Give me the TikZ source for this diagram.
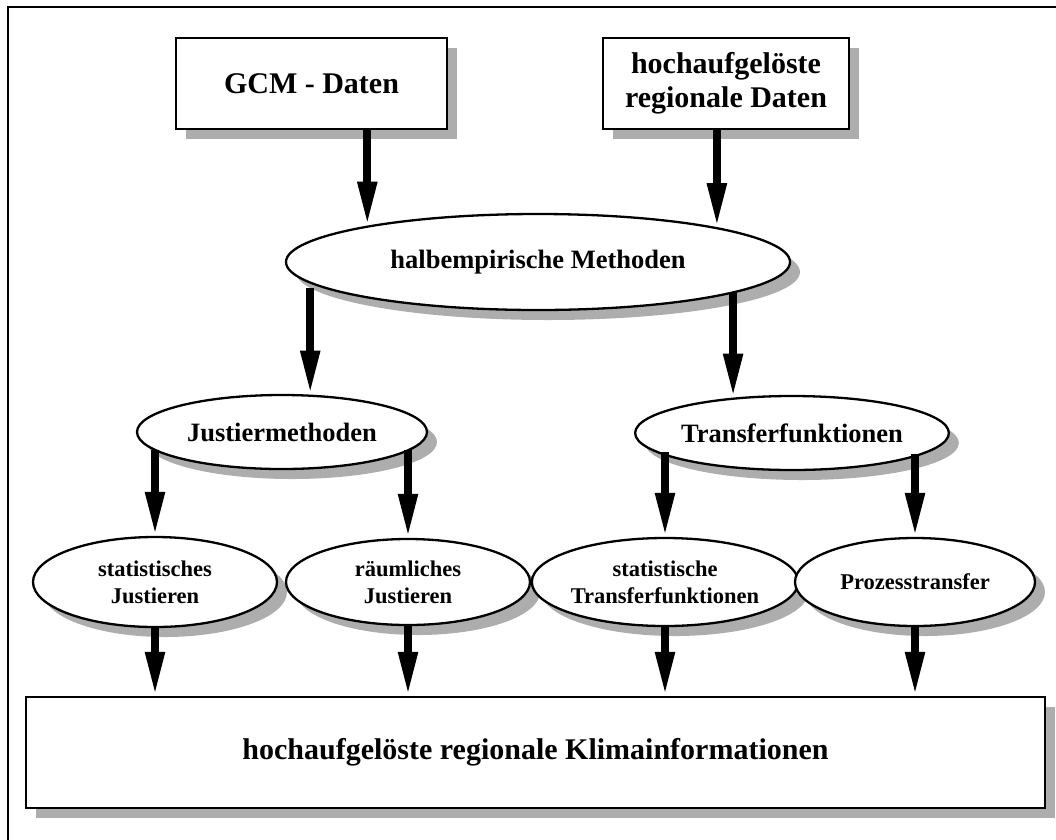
\documentclass[tikz,border=0pt]{standalone}
\usepackage{fontspec}
\setmainfont{Liberation Serif}
\usetikzlibrary{shapes.geometric,shadows,arrows.meta}
\begin{document}
\begin{tikzpicture}[x=1pt,y=-1pt,
  dropshade/.style={drop shadow={shadow xshift=10pt,shadow yshift=-10pt,fill=black!32,opacity=1}},
  box/.style={draw,line width=2.3pt,fill=white,rectangle,inner sep=0pt,align=center,dropshade,
    font=\fontsize{30}{34}\selectfont\bfseries},
  oval/.style={draw,line width=2.3pt,fill=white,ellipse,inner sep=0pt,align=center,dropshade},
  bigtext/.style={font=\fontsize{26.5}{30}\selectfont\bfseries},
  smalltext/.style={font=\fontsize{22.5}{27}\selectfont\bfseries},
  flow/.style={line width=8pt,-{Triangle[length=44pt,width=18pt]}}
]
\useasboundingbox (0,0) rectangle (1056,839);
\clip (0,0) rectangle (1056,839);

% outer frame
\draw[line width=2pt] (8,7) rectangle (1080,860);

% sources
\node[box,minimum width=271pt,minimum height=91pt] (gcm) at (311.5,83.5) {GCM - Daten};
\node[box,minimum width=246pt,minimum height=91pt] (hoch) at (726,83.5) {hochaufgelöste\\regionale Daten};

% methods
\node[oval,bigtext,minimum width=504pt,minimum height=96pt] (halb) at (538,262) {halbempirische Methoden};
\node[oval,bigtext,minimum width=290pt,minimum height=74pt] (just) at (282,432) {Justiermethoden};
\node[oval,bigtext,minimum width=290pt,minimum height=74pt] (trans) at (792,433) {Transferfunktionen};

\node[oval,smalltext,minimum width=244pt,minimum height=90pt] (sj) at (155,582) {statistisches\\Justieren};
\node[oval,smalltext,minimum width=244pt,minimum height=86pt] (rj) at (408,582) {räumliches\\Justieren};
\node[oval,smalltext,minimum width=242pt,minimum height=88pt] (stf) at (665,582) {statistische\\Transferfunktionen};
\node[oval,smalltext,minimum width=240pt,minimum height=88pt] (pt) at (915,582) {Prozesstransfer};

% result
\node[box,minimum width=1019pt,minimum height=111pt] (klima) at (535.5,752.5) {hochaufgelöste regionale Klimainformationen};

% connectors
\draw[flow] (gcm.south -| halb.168) -- (halb.168);
\draw[flow] (hoch.south -| halb.11) -- (halb.11);
\draw[flow] (just.53 |- halb.187) -- (just.53);
\draw[flow] (trans.149 |- halb.351) -- (trans.149);
\draw[flow] (sj.north |- just.188) -- (sj.north);
\draw[flow] (rj.north |- just.352) -- (rj.north);
\draw[flow] (stf.north |- trans.188) -- (stf.north);
\draw[flow] (pt.north |- trans.351) -- (pt.north);
\draw[flow] (sj.south) -- (sj.south |- klima.north);
\draw[flow] (rj.south) -- (rj.south |- klima.north);
\draw[flow] (stf.south) -- (stf.south |- klima.north);
\draw[flow] (pt.south) -- (pt.south |- klima.north);
\end{tikzpicture}
\end{document}
